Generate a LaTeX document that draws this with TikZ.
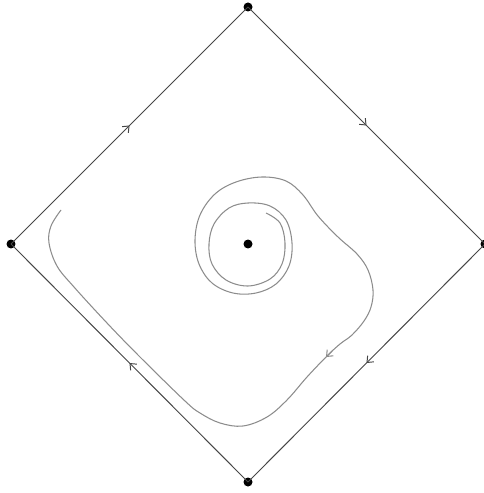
\documentclass[tikz,border=0pt]{standalone}
\usetikzlibrary{arrows.meta,decorations.markings}
\definecolor{edgecol}{RGB}{70,70,70}
\definecolor{orbitcol}{RGB}{140,140,140}
\tikzset{
  dot/.style={circle,fill=black,inner sep=0pt,minimum size=0.18cm},
  edge/.style={draw=edgecol,line width=0.55pt,
    postaction={decorate},
    decoration={markings,mark=at position 0.5 with {\arrow[edgecol]{Straight Barb[length=3pt,width=5pt]}}}},
  orbit/.style={draw=orbitcol,line width=0.6pt}
}
\begin{document}
\begin{tikzpicture}[x=0.02cm,y=-0.02cm]
\useasboundingbox (0,0) rectangle (483,493);
\node[dot] (top) at (248,7) {};
\node[dot] (left) at (11,244) {};
\node[dot] (bottom) at (248,482) {};
\node[dot] (right) at (485,244) {};
\node[dot] (center) at (248,244) {};
\draw[edge] (left.center) -- (top.center);
\draw[edge] (top.center) -- (right.center);
\draw[edge] (right.center) -- (bottom.center);
\draw[edge] (bottom.center) -- (left.center);
\draw[orbit] plot[smooth,tension=0.6] coordinates {
 (266,213) (280,223) (285,243) (282,264) (270,279) (248,286) (226,280) (212,264) (209,244)
 (214,224) (229,208) (248,203) (270,206) (286,220) (292,243) (289,266) (276,284) (256,293)
 (233,293) (212,283) (199,264) (195,240) (200,215) (215,194) (236,182) (262,177) (286,181)
 (303,195) (318,216) (338,237) (357,254) (368,270) (373,290) (371,307) (364,321) (352,335)
 (340,344) (327,356) (307,377) (287,400) (267,417) (243,426) (220,423) (200,413) (185,401)
 (140,357) (107,323) (74,287) (57,266) (49,243) (51,226) (61,210)};
\coordinate (oa) at (332,351);
\coordinate (ob) at (326,357);
\draw[draw=orbitcol,line width=0.6pt,-{Straight Barb[length=3pt,width=5pt]}] (oa) -- (ob);
\end{tikzpicture}
\end{document}
